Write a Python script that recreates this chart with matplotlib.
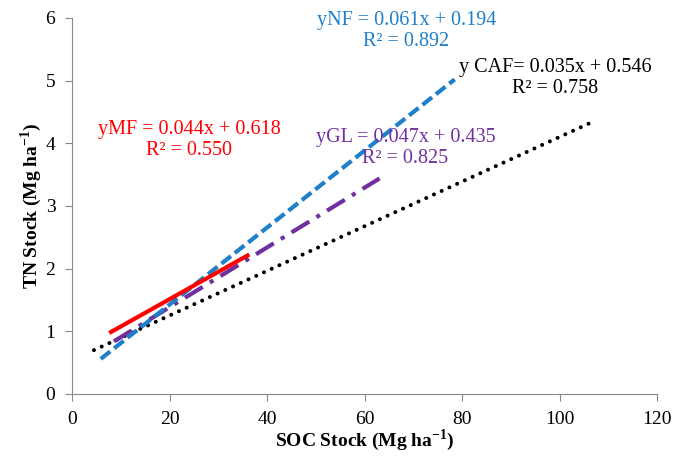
import matplotlib.pyplot as plt

plt.rcParams['font.family'] = ['Liberation Serif', 'DejaVu Serif']
plt.rcParams['mathtext.fontset'] = 'custom'
plt.rcParams['mathtext.rm'] = 'Liberation Serif'
plt.rcParams['mathtext.bf'] = 'Liberation Serif:bold'

# trend line end points (SOC, TN)
nf_x = [5.9, 78.5]
nf_y = [0.56, 5.02]
caf_x = [4.5, 106.7]
caf_y = [0.70, 4.34]
mf_x = [8.0, 36.0]
mf_y = [0.99, 2.21]
gl_x = [8.6, 63.1]
gl_y = [0.84, 3.44]

nf_eq = 'yNF = 0.061x + 0.194\nR² = 0.892'
caf_eq = 'y CAF= 0.035x + 0.546\nR² = 0.758'
mf_eq = 'yMF = 0.044x + 0.618\nR² = 0.550'
gl_eq = 'yGL = 0.047x + 0.435\nR² = 0.825'

fig = plt.figure(figsize=(6.75, 4.62), dpi=100)
ax = fig.add_axes([72 / 675, 1 - 394 / 462, 585 / 675, 376 / 462])

ax.plot(caf_x, caf_y, color='black', linestyle=(0, (0.01, 2.1)), linewidth=2.9,
        dash_capstyle='round')
ax.plot(gl_x, gl_y, color='#7030A0', linestyle=(0, (5, 2, 1, 2)), linewidth=3)
ax.plot(nf_x, nf_y, color='#1F7FC8', linestyle=(0, (2.9, 1.2)), linewidth=3)
ax.plot(mf_x, mf_y, color='#FF0000', linewidth=3)

txt = dict(fontsize=14.5, ha='center', va='center', linespacing=1.15)
ax.text(68.6, 5.79, nf_eq, color='#1F7FC8', **txt)
ax.text(99.1, 5.04, caf_eq, color='black', **txt)
ax.text(24.0, 4.06, mf_eq, color='#FF0000', **txt)
ax.text(68.4, 3.92, gl_eq, color='#7030A0', **txt)

ax.set_xlim(0, 120)
ax.set_ylim(0, 6)
ax.set_xticks(range(0, 121, 20))
ax.set_yticks(range(0, 7))
ax.tick_params(labelsize=14, color='#888888', length=5, pad=7)
for s in ['top', 'right']:
    ax.spines[s].set_visible(False)
for s in ['left', 'bottom']:
    ax.spines[s].set_color('#888888')

ax.set_xlabel('SOC Stock (Mg ha$^{\\mathbf{-1}}$)', fontsize=14, fontweight='bold',
              labelpad=0)
ax.set_ylabel('TN Stock (Mg ha$^{\\mathbf{-1}}$)', fontsize=14, fontweight='bold',
              labelpad=1)

plt.savefig('out.png', dpi=100)
